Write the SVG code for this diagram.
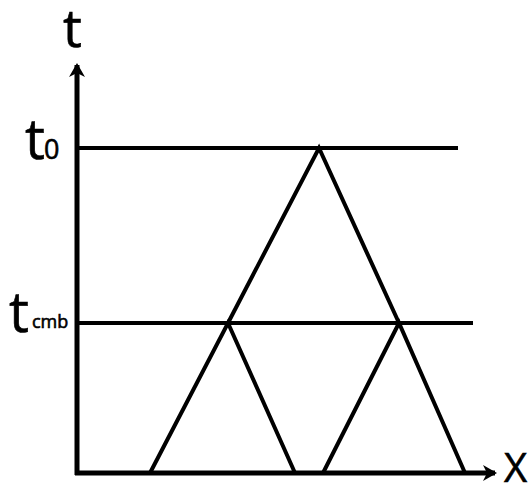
<svg xmlns="http://www.w3.org/2000/svg" width="530" height="485" viewBox="0 0 530 485">
<style>
.ax{stroke:#000;stroke-width:5;fill:none}
.ln{stroke:#000;stroke-width:4;fill:none;stroke-linecap:butt}
.lb{font-family:"Open Sans","Noto Sans",sans-serif;fill:#000;stroke:#000;stroke-width:0.6}
</style>
<defs>
<marker id="ah" viewBox="0 0 14 16" refX="12" refY="8" markerWidth="14" markerHeight="16" markerUnits="userSpaceOnUse" orient="auto">
<path d="M0,0 L14,8 L0,16 L4,8 Z" fill="#000"/>
</marker>
</defs>
<rect width="530" height="485" fill="#fff"/>
<g id="axes">
<line class="ax" x1="77" y1="475" x2="77" y2="65" marker-end="url(#ah)"/>
<line class="ax" x1="75" y1="473" x2="495" y2="473" marker-end="url(#ah)"/>
</g>
<g id="connectors">
<line class="ln" x1="77" y1="148" x2="458" y2="148"/>
<line class="ln" x1="77" y1="323" x2="473" y2="323"/>
<polyline class="ln" points="228,323 319,148 399,323"/>
<polyline class="ln" points="150,473 228,323 295,473"/>
<polyline class="ln" points="323,473 399,323 465,473"/>
</g>
<g id="labels">
<text class="lb" x="63" y="47" font-size="53">t</text>
<text class="lb" x="504" y="482" font-size="40">X</text>
<g id="t0"><text class="lb" x="25" y="159" font-size="56">t</text><text class="lb" x="44" y="159" font-size="27">0</text></g>
<g id="tcmb"><text class="lb" x="9" y="332" font-size="56">t</text><text class="lb" x="32" y="328" font-size="18">cmb</text></g>
</g>
</svg>
